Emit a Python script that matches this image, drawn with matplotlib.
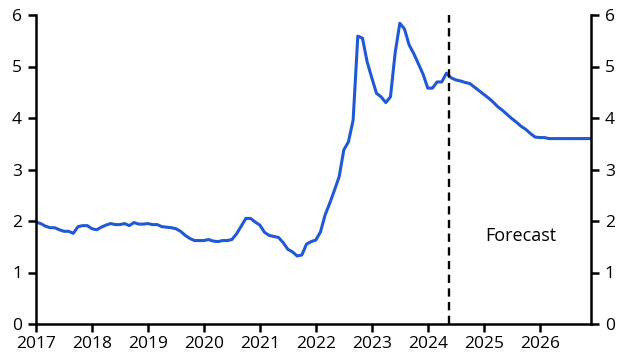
import numpy as np
import matplotlib
matplotlib.use('Agg')
import matplotlib.pyplot as plt

plt.rcParams['font.family'] = ['Open Sans', 'DejaVu Sans']

# Monthly values, Jan 2017 - Dec 2026
vals_2017 = [1.98, 1.95, 1.90, 1.87, 1.87, 1.83, 1.80, 1.80, 1.76, 1.89, 1.91, 1.91]
vals_2018 = [1.85, 1.83, 1.88, 1.92, 1.95, 1.93, 1.93, 1.95, 1.91, 1.97, 1.94, 1.94]
vals_2019 = [1.95, 1.93, 1.93, 1.89, 1.88, 1.87, 1.85, 1.80, 1.72, 1.66, 1.62, 1.62]
vals_2020 = [1.62, 1.64, 1.61, 1.60, 1.62, 1.62, 1.64, 1.75, 1.90, 2.05, 2.05, 1.98]
vals_2021 = [1.92, 1.78, 1.72, 1.70, 1.68, 1.58, 1.45, 1.40, 1.32, 1.34, 1.55, 1.60]
vals_2022 = [1.63, 1.79, 2.12, 2.35, 2.60, 2.86, 3.38, 3.54, 3.96, 5.59, 5.55, 5.09]
vals_2023 = [4.78, 4.48, 4.41, 4.30, 4.41, 5.26, 5.84, 5.73, 5.42, 5.25, 5.05, 4.85]
vals_2024 = [4.58, 4.58, 4.70, 4.70, 4.87, 4.78, 4.74, 4.72, 4.69, 4.67, 4.60, 4.53]
vals_2025 = [4.46, 4.39, 4.31, 4.22, 4.15, 4.07, 3.99, 3.92, 3.84, 3.78, 3.70, 3.63]
vals_2026 = [3.62, 3.62, 3.60, 3.60, 3.60, 3.60, 3.60, 3.60, 3.60, 3.60, 3.60, 3.60]

values = (vals_2017 + vals_2018 + vals_2019 + vals_2020 + vals_2021
          + vals_2022 + vals_2023 + vals_2024 + vals_2025 + vals_2026)
dates = 2017 + np.arange(len(values)) / 12.0

forecast_start = 2024 + 4.5 / 12.0
year_ticks = list(range(2017, 2027))
y_ticks = [0, 1, 2, 3, 4, 5, 6]

fig = plt.figure(figsize=(6.31, 3.62), dpi=100)
ax = fig.add_axes([36 / 631, 38 / 362, 555 / 631, 309 / 362])

ax.plot(dates, values, color='#2159d4', linewidth=2.2, solid_joinstyle='round')
ax.axvline(forecast_start, color='black', linewidth=1.7, linestyle=(0, (3.5, 2.3)))
ax.text(2025.665, 1.71, 'Forecast', fontsize=13, ha='center', va='center')

ax.set_xlim(2017, 2026 + 11 / 12.0)
ax.set_ylim(0, 6)
ax.set_xticks(year_ticks)
ax.set_xticklabels([str(y) for y in year_ticks])
ax.set_yticks(y_ticks)

for side in ['left', 'right', 'bottom']:
    ax.spines[side].set_linewidth(1.8)
ax.spines['top'].set_visible(False)

ax.tick_params(axis='both', direction='out', length=6, width=1.8, labelsize=12.5)
ax.tick_params(axis='y', right=True, labelright=True, pad=4)
ax.tick_params(axis='x', pad=3)

fig.savefig('out.png', dpi=100)
